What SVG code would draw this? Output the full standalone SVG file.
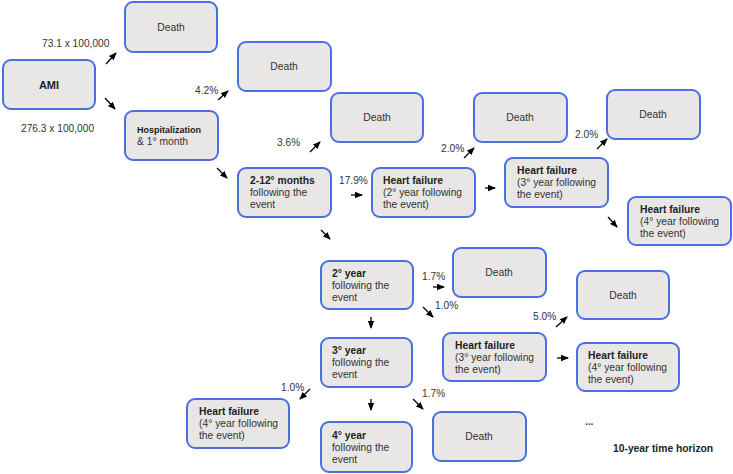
<svg xmlns="http://www.w3.org/2000/svg" width="733" height="474" viewBox="0 0 733 474">
<defs>
<style>
.box{fill:#e9e7e5;stroke:#4a6fe0;stroke-width:2}
text{font-family:"Liberation Sans",Arial,sans-serif;font-size:10.3px;fill:#333}
.b{font-weight:bold;fill:#222}
.c{text-anchor:middle}
.lbl{font-size:10.2px;fill:#333}
.ar{stroke:#000;stroke-width:1.3;fill:none;marker-end:url(#ah)}
</style>
<marker id="ah" markerUnits="userSpaceOnUse" markerWidth="8" markerHeight="8" viewBox="0 0 8 8" refX="7" refY="4" orient="auto">
<path d="M0,0.8 L8,4 L0,7.2 Z" fill="#000"/>
</marker>
</defs>
<rect width="733" height="474" fill="#fff"/>

<g id="ami"><rect class="box" x="3" y="60" width="92" height="49" rx="8"/><text class="b c" x="49" y="89" style="font-size:11px">AMI</text></g>
<g id="death1"><rect class="box" x="125" y="2" width="92" height="50" rx="8"/><text class="c" x="171" y="31">Death</text></g>
<g id="hosp"><rect class="box" x="125" y="111" width="93" height="49" rx="8"/><text class="b" x="137" y="133" style="font-size:9px">Hospitalization</text><text x="137" y="145">&amp; 1° month</text></g>
<g id="death2"><rect class="box" x="238" y="42" width="93" height="49" rx="8"/><text class="c" x="284" y="70">Death</text></g>
<g id="m212"><rect class="box" x="238" y="168" width="93" height="49" rx="8"/><text class="b" x="250" y="184">2-12° months</text><text x="250" y="196">following the</text><text x="250" y="208">event</text></g>
<g id="death3"><rect class="box" x="331" y="93" width="92" height="49" rx="8"/><text class="c" x="377" y="121">Death</text></g>
<g id="hf2"><rect class="box" x="372" y="168" width="103" height="49" rx="8"/><text class="b" x="383" y="184">Heart failure</text><text x="383" y="196">(2° year following</text><text x="383" y="208">the event)</text></g>
<g id="death4"><rect class="box" x="474" y="93" width="93" height="49" rx="8"/><text class="c" x="520" y="121">Death</text></g>
<g id="hf3a"><rect class="box" x="505" y="158" width="103" height="49" rx="8"/><text class="b" x="517" y="174">Heart failure</text><text x="517" y="186">(3° year following</text><text x="517" y="198">the event)</text></g>
<g id="death5"><rect class="box" x="607" y="90" width="93" height="49" rx="8"/><text class="c" x="653" y="118">Death</text></g>
<g id="hf4a"><rect class="box" x="628" y="197" width="103" height="48" rx="8"/><text class="b" x="640" y="213">Heart failure</text><text x="640" y="225">(4° year following</text><text x="640" y="237">the event)</text></g>
<g id="y2"><rect class="box" x="321" y="261" width="92" height="48" rx="8"/><text class="b" x="332" y="277">2° year</text><text x="332" y="289">following the</text><text x="332" y="301">event</text></g>
<g id="death6"><rect class="box" x="453" y="248" width="93" height="49" rx="8"/><text class="c" x="499" y="276">Death</text></g>
<g id="hf3b"><rect class="box" x="443" y="333" width="103" height="48" rx="8"/><text class="b" x="455" y="349">Heart failure</text><text x="455" y="361">(3° year following</text><text x="455" y="373">the event)</text></g>
<g id="death7"><rect class="box" x="577" y="271" width="92" height="48" rx="8"/><text class="c" x="623" y="299">Death</text></g>
<g id="hf4b"><rect class="box" x="577" y="343" width="102" height="48" rx="8"/><text class="b" x="588" y="359">Heart failure</text><text x="588" y="371">(4° year following</text><text x="588" y="383">the event)</text></g>
<g id="y3"><rect class="box" x="321" y="338" width="91" height="49" rx="8"/><text class="b" x="332" y="354">3° year</text><text x="332" y="366">following the</text><text x="332" y="378">event</text></g>
<g id="hf4c"><rect class="box" x="187" y="399" width="102" height="49" rx="8"/><text class="b" x="199" y="415">Heart failure</text><text x="199" y="427">(4° year following</text><text x="199" y="439">the event)</text></g>
<g id="y4"><rect class="box" x="321" y="422" width="91" height="50" rx="8"/><text class="b" x="332" y="439">4° year</text><text x="332" y="451">following the</text><text x="332" y="463">event</text></g>
<g id="death8"><rect class="box" x="433" y="412" width="93" height="49" rx="8"/><text class="c" x="479" y="440">Death</text></g>

<g id="connectors">
<line class="ar" x1="106" y1="64" x2="116" y2="53"/>
<line class="ar" x1="105" y1="98" x2="115" y2="109"/>
<line class="ar" x1="218" y1="100" x2="228" y2="91"/>
<line class="ar" x1="217" y1="168" x2="227" y2="178"/>
<line class="ar" x1="310" y1="152" x2="320" y2="142"/>
<line class="ar" x1="351" y1="195" x2="362" y2="195"/>
<line class="ar" x1="464" y1="158" x2="474" y2="148"/>
<line class="ar" x1="485" y1="188" x2="495" y2="188"/>
<line class="ar" x1="597" y1="149" x2="607" y2="139"/>
<line class="ar" x1="608" y1="217" x2="617" y2="227"/>
<line class="ar" x1="321" y1="230" x2="330" y2="239"/>
<line class="ar" x1="433" y1="287" x2="444" y2="287"/>
<line class="ar" x1="423" y1="307" x2="433" y2="317"/>
<line class="ar" x1="371" y1="317" x2="371" y2="328"/>
<line class="ar" x1="556" y1="327" x2="567" y2="317"/>
<line class="ar" x1="557" y1="358" x2="568" y2="358"/>
<line class="ar" x1="310" y1="389" x2="300" y2="399"/>
<line class="ar" x1="371" y1="399" x2="371" y2="410"/>
<line class="ar" x1="413" y1="399" x2="423" y2="409"/>
</g>

<g id="labels">
<text class="lbl" x="42" y="47">73.1 x 100,000</text>
<text class="lbl" x="21" y="132">276.3 x 100,000</text>
<text class="lbl" x="195" y="94">4.2%</text>
<text class="lbl" x="277" y="146">3.6%</text>
<text class="lbl" x="339" y="184">17.9%</text>
<text class="lbl" x="441" y="152">2.0%</text>
<text class="lbl" x="575" y="138">2.0%</text>
<text class="lbl" x="422" y="280">1.7%</text>
<text class="lbl" x="435" y="309">1.0%</text>
<text class="lbl" x="533" y="320">5.0%</text>
<text class="lbl" x="281" y="391">1.0%</text>
<text class="lbl" x="422" y="397">1.7%</text>
<text x="585" y="425" style="fill:#2a3a8a;font-size:10px;font-weight:bold">...</text>
<text class="b" x="613" y="452">10-year time horizon</text>
</g>
</svg>
